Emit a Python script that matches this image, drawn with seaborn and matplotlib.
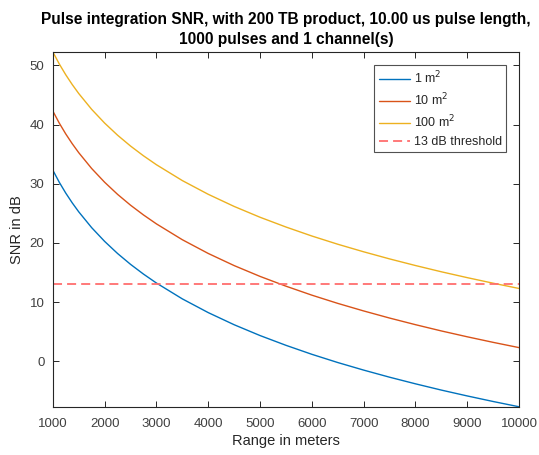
import matplotlib
matplotlib.use("Agg")
import matplotlib.pyplot as plt
import seaborn as sns
import pandas as pd

range_m = [1000, 1125, 1250, 1375, 1500, 1750, 2000, 2250, 2500, 2750, 3000,
           3500, 4000, 4500, 5000, 5500, 6000, 6500, 7000, 7500, 8000, 8500,
           9000, 9500, 10000]
snr_1m2 = [32.30, 30.25, 28.42, 26.77, 25.26, 22.58, 20.26, 18.21, 16.38, 14.73,
           13.22, 10.54, 8.22, 6.17, 4.34, 2.69, 1.17, -0.22, -1.50, -2.70,
           -3.82, -4.88, -5.87, -6.81, -7.70]
snr_10m2 = [42.30, 40.25, 38.42, 36.77, 35.26, 32.58, 30.26, 28.21, 26.38, 24.73,
            23.22, 20.54, 18.22, 16.17, 14.34, 12.69, 11.17, 9.78, 8.50, 7.30,
            6.18, 5.12, 4.13, 3.19, 2.30]
snr_100m2 = [52.30, 50.25, 48.42, 46.77, 45.26, 42.58, 40.26, 38.21, 36.38, 34.73,
             33.22, 30.54, 28.22, 26.17, 24.34, 22.69, 21.17, 19.78, 18.50, 17.30,
             16.18, 15.12, 14.13, 13.19, 12.30]
threshold_db = 13
labels = ["1 m$^2$", "10 m$^2$", "100 m$^2$", "13 dB threshold"]
x_ticks = [1000, 2000, 3000, 4000, 5000, 6000, 7000, 8000, 9000, 10000]
y_ticks = [0, 10, 20, 30, 40, 50]

sns.set_style("white")
plt.rcParams["font.family"] = ["Liberation Sans", "DejaVu Sans"]

fig = plt.figure(figsize=(5.39, 4.55), dpi=100)
ax = fig.add_axes([0.098, 0.106, 0.865, 0.780])

colors = ["#0072BD", "#D95319", "#EDB120"]
df = pd.DataFrame({"range": range_m * 3,
                   "snr": snr_1m2 + snr_10m2 + snr_100m2,
                   "rcs": [labels[0]] * len(range_m) + [labels[1]] * len(range_m)
                   + [labels[2]] * len(range_m)})
sns.lineplot(data=df, x="range", y="snr", hue="rcs", palette=colors,
             linewidth=1.0, ax=ax, legend=False)
thr = pd.DataFrame({"range": [range_m[0], range_m[-1]],
                    "snr": [threshold_db, threshold_db]})
sns.lineplot(data=thr, x="range", y="snr", ax=ax, color="#FF6E6E",
             linewidth=1.3, linestyle=(0, (5, 2.8)), legend=False)

ax.set_xlim(range_m[0], range_m[-1])
ax.set_ylim(min(snr_1m2), max(snr_100m2))
ax.set_xticks(x_ticks)
ax.set_yticks(y_ticks)
ax.tick_params(direction="in", length=4, width=0.7, colors="#262626",
               labelcolor="#404040", labelsize=9.5, top=True, right=True,
               bottom=True, left=True)
ax.tick_params(axis="x", pad=8)
ax.tick_params(axis="y", pad=6)
for s in ax.spines.values():
    s.set_color("#262626")
    s.set_linewidth(0.8)
ax.set_xlabel("Range in meters", fontsize=10.5, color="#262626", labelpad=3)
ax.set_ylabel("SNR in dB", fontsize=10.5, color="#262626", labelpad=4)
ax.set_title("Pulse integration SNR, with 200 TB product, 10.00 us pulse length,\n"
             "1000 pulses and 1 channel(s)", fontsize=11.2, fontweight="bold",
             color="black", pad=6, linespacing=1.35)

handles = ax.get_lines()
leg = ax.legend(handles[:4], labels, loc="upper right", fontsize=9,
                frameon=True, fancybox=False, edgecolor="#262626",
                borderpad=0.35, labelspacing=0.45, handlelength=2.5,
                handletextpad=0.3, borderaxespad=0,
                bbox_to_anchor=(0.972, 0.963))
leg.get_frame().set_linewidth(0.8)

fig.savefig("out.png", dpi=100)
